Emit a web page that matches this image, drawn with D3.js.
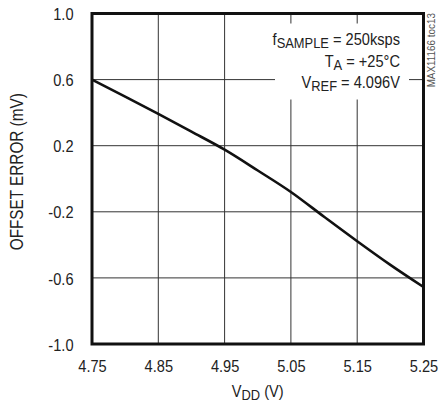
<!DOCTYPE html>
<html><head><meta charset="utf-8">
<script src="https://cdn.jsdelivr.net/npm/d3@7"></script>
<style>
body{margin:0;background:#fff;}
svg text{font-family:"Liberation Sans",Arial,sans-serif;fill:#222;}
</style></head>
<body><svg id="c" width="440" height="404"></svg>
<script>
const vdd = [4.75, 4.80, 4.85, 4.90, 4.95, 5.00, 5.05, 5.10, 5.15, 5.20, 5.25];
const offsetErr = [0.60, 0.497, 0.392, 0.285, 0.176, 0.05, -0.08, -0.23, -0.378, -0.521, -0.655];
const xTicks = [4.75, 4.85, 4.95, 5.05, 5.15, 5.25];
const yTicks = [-1.0, -0.6, -0.2, 0.2, 0.6, 1.0];

const SX = 0.86; // narrow font emulation
const svg = d3.select("#c");
const L = 92, R = 423.5, T = 13.5, B = 344;
const x = d3.scaleLinear().domain([4.75, 5.25]).range([L, R]);
const y = d3.scaleLinear().domain([-1, 1]).range([B, T]);

// grid
const g = svg.append("g");
g.selectAll("line.vx").data(xTicks.slice(1, -1)).join("line")
  .attr("x1", d => x(d)).attr("x2", d => x(d)).attr("y1", T).attr("y2", B)
  .attr("stroke", "#333").attr("stroke-width", 1);
g.selectAll("line.hy").data(yTicks.slice(1, -1)).join("line")
  .attr("y1", d => y(d)).attr("y2", d => y(d)).attr("x1", L).attr("x2", R)
  .attr("stroke", "#333").attr("stroke-width", 1);

// annotation mask
svg.append("rect").attr("x", 275).attr("y", 23.5).attr("width", 134).attr("height", 76).attr("fill", "#fff");

// axes tick labels
const xAxis = d3.axisBottom(x).tickValues(xTicks).tickFormat(d => d.toFixed(2)).tickSize(0).tickPadding(16);
const xa = svg.append("g").attr("transform", `translate(0,${B})`).call(xAxis);
xa.select(".domain").remove();
xa.selectAll("text").attr("font-size", 17).attr("font-family", null).attr("fill", "#222")
  .attr("dy", null).attr("y", 28).attr("transform", `scale(${SX},1)`);

const yAxis = d3.axisLeft(y).tickValues(yTicks).tickFormat(d => d.toFixed(1)).tickSize(0).tickPadding(18.5);
const ya = svg.append("g").attr("transform", `translate(${L},0)`).call(yAxis);
ya.select(".domain").remove();
ya.selectAll("text").attr("font-size", 17).attr("font-family", null).attr("fill", "#222")
  .attr("dy", "0.36em").attr("x", -18.5 / SX).attr("transform", `scale(${SX},1)`);

// curve
const line = d3.line().x((d, i) => x(vdd[i])).y(d => y(d)).curve(d3.curveMonotoneX);
svg.append("path").datum(offsetErr).attr("d", line)
  .attr("fill", "none").attr("stroke", "#111").attr("stroke-width", 2.6).attr("stroke-linejoin", "round");

// frame
svg.append("rect").attr("x", L).attr("y", T).attr("width", R - L).attr("height", B - T)
  .attr("fill", "none").attr("stroke", "#111").attr("stroke-width", 3);

// annotation
const ann = [
  {main: "f", sub: "SAMPLE", rest: " = 250ksps", yb: 45},
  {main: "T", sub: "A", rest: " = +25°C", yb: 66.7},
  {main: "V", sub: "REF", rest: " = 4.096V", yb: 88.3}
];
ann.forEach(a => {
  const t = svg.append("text").attr("transform", `translate(400,${a.yb}) scale(${SX},1)`)
    .attr("text-anchor", "end").attr("font-size", 17);
  t.append("tspan").text(a.main);
  t.append("tspan").attr("font-size", 15).attr("dy", 3).text(a.sub);
  t.append("tspan").attr("dy", -3).text(a.rest);
});

// axis titles
svg.append("text").attr("transform", `translate(23,${(T + B) / 2 - 7}) rotate(-90) scale(${SX},1)`)
  .attr("text-anchor", "middle").attr("font-size", 17.8).text("OFFSET ERROR (mV)");
const xt = svg.append("text").attr("transform", `translate(${(L + R) / 2},397) scale(${SX},1)`)
  .attr("text-anchor", "middle").attr("font-size", 17);
xt.append("tspan").text("V");
xt.append("tspan").attr("font-size", 15).attr("dy", 3).text("DD");
xt.append("tspan").attr("dy", -3).text(" (V)");

// side note
svg.append("text").attr("transform", `translate(434.5,13) rotate(-90) scale(${SX},1)`).attr("text-anchor", "end")
  .attr("font-size", 11.5).style("fill", "#555").text("MAX11166 toc13");
</script></body></html>
